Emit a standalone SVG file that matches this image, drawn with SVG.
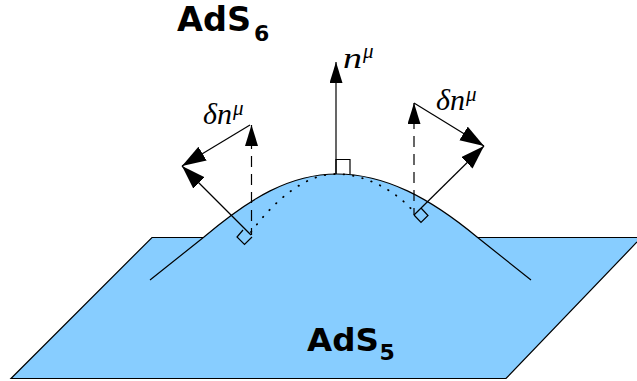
<svg xmlns="http://www.w3.org/2000/svg" width="637" height="381" viewBox="0 0 637 381">
<style>
.ln{fill:none;stroke:#000;stroke-width:1.2}
.b{font-family:"DejaVu Sans",sans-serif;font-weight:bold;fill:#000}
.m{font-family:"Liberation Serif",serif;font-style:italic;fill:#000}
</style>
<defs>
<marker id="a" markerUnits="userSpaceOnUse" markerWidth="26" markerHeight="18" refX="24" refY="8" orient="auto">
<path d="M0 0L24 8L0 16z" fill="#000"/>
</marker>
<marker id="v" markerUnits="userSpaceOnUse" markerWidth="24" markerHeight="15" refX="21" refY="6.500" orient="auto">
<path d="M0 0L21 6.500L0 13z" fill="#000"/>
</marker>
</defs>
<g id="plane">
<path d="M152 237.500H637V242L506 378.500H11z" fill="#87cdff"/>
<path d="M637 237.500H152L11 378.500H506L637 242" class="ln"/>
</g>
<g id="hill">
<path d="M204 237C250 198 290 174 337 174C385 174 430 198 477 237L531 280H150z" fill="#87cdff"/>
<path d="M150 280L204 237C250 198 290 174 337 174C385 174 430 198 477 237L531 280" class="ln"/>
</g>
<g id="connectors">
<path d="M336 174V62" class="ln" marker-end="url(#v)"/>
<path d="M251.500 235V125" class="ln" stroke-dasharray="11 7" stroke-dashoffset="4" marker-end="url(#v)"/>
<path d="M414 215V103" class="ln" stroke-dasharray="11 7" stroke-dashoffset="4" marker-end="url(#v)"/>
<path d="M250 125L182 166" class="ln" marker-end="url(#a)"/>
<path d="M414 103L484 146" class="ln" marker-end="url(#a)"/>
<path d="M251 235L182 166" class="ln" marker-end="url(#a)"/>
<path d="M414 215L484 146" class="ln" marker-end="url(#a)"/>
<path d="M251 232C275 200 305 174 336 174C365 174 395 190 414 212" fill="none" stroke="#000" stroke-width="1.800" stroke-linecap="round" stroke-dasharray="0.500 9"/>
<path d="M336 174V159.500H350V174" class="ln"/>
<path d="M243 230L237 237L244.500 244.500L252 237" class="ln"/>
<path d="M414 215L421 222.500L428 215.500L421 208" class="ln"/>
</g>
<g id="labels">
<text x="177" y="31" class="b" font-size="33.500">AdS</text>
<text x="254" y="41" class="b" font-size="22">6</text>
<text x="307" y="351" class="b" font-size="32.500">AdS</text>
<text x="379.500" y="360" class="b" font-size="22">5</text>
<text x="343" y="68" class="m" font-size="30" textLength="19" lengthAdjust="spacingAndGlyphs">n</text>
<text x="363" y="58" class="m" font-size="21">μ</text>
<text x="203" y="124" class="m" font-size="30">δn</text>
<text x="233" y="115" class="m" font-size="21">μ</text>
<text x="436" y="110" class="m" font-size="30">δn</text>
<text x="466" y="101" class="m" font-size="21">μ</text>
</g>
</svg>
